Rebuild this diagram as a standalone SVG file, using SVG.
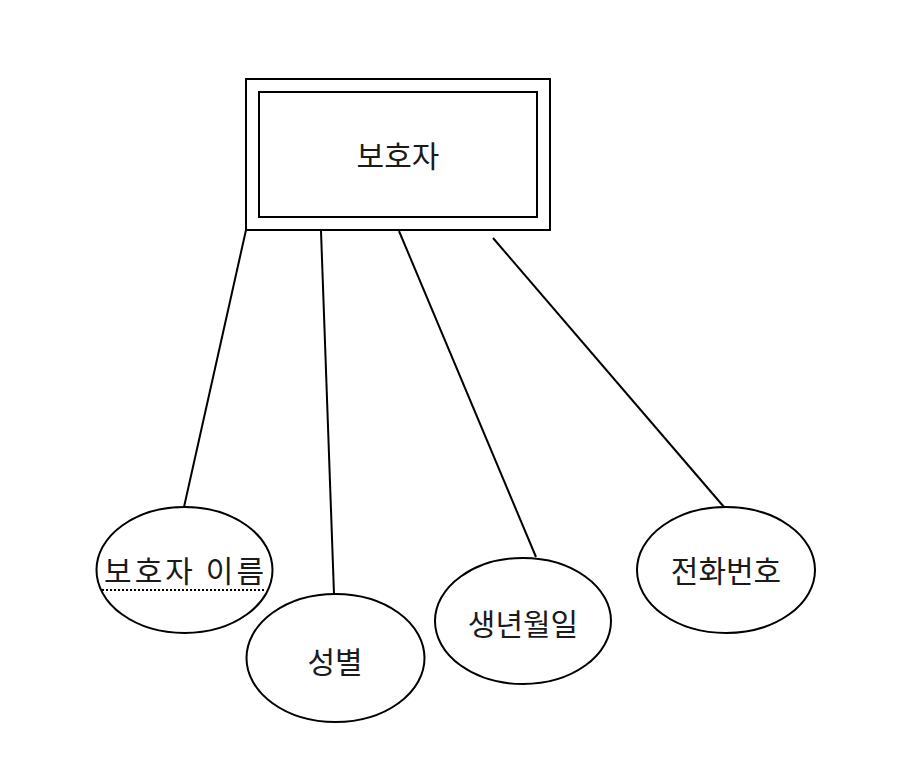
<svg xmlns="http://www.w3.org/2000/svg" width="923" height="759" viewBox="0 0 923 759">
  <style>
    .shape { fill: #ffffff; stroke: #000000; stroke-width: 2; }
    .edge { fill: none; stroke: #000000; stroke-width: 2; }
    .label { font-family: "Noto Sans CJK KR", "Noto Sans", sans-serif; font-size: 30px; fill: #1a1a1a; text-anchor: middle; dominant-baseline: central; }
    .key { fill: none; stroke: #000000; stroke-width: 2; stroke-dasharray: 2 2; }
  </style>
  <rect width="923" height="759" fill="#ffffff"/>

  <g id="connectors">
    <line class="edge" x1="246" y1="230" x2="184" y2="507"/>
    <line class="edge" x1="321" y1="231" x2="334" y2="594"/>
    <line class="edge" x1="399" y1="231" x2="536" y2="557"/>
    <line class="edge" x1="493" y1="238" x2="724" y2="507"/>
  </g>

  <!-- weak entity: double border -->
  <g id="guardian">
    <rect class="shape" x="246" y="79" width="304" height="151"/>
    <rect class="shape" x="259" y="92" width="278" height="125"/>
    <text class="label" x="398" y="154">보호자</text>
  </g>

  <g id="attr-name">
    <ellipse class="shape" cx="184.5" cy="570" rx="88" ry="63"/>
    <text class="label" x="184" y="569" textLength="160" lengthAdjust="spacing">보호자 이름</text>
    <line class="key" x1="102" y1="590" x2="266" y2="590"/>
  </g>

  <g id="attr-gender">
    <ellipse class="shape" cx="335.5" cy="658" rx="89" ry="64"/>
    <text class="label" x="335" y="660">성별</text>
  </g>

  <g id="attr-birth">
    <ellipse class="shape" cx="523" cy="621" rx="88" ry="63"/>
    <text class="label" x="523" y="622">생년월일</text>
  </g>

  <g id="attr-phone">
    <ellipse class="shape" cx="726" cy="570" rx="89" ry="63"/>
    <text class="label" x="726" y="569">전화번호</text>
  </g>
</svg>
